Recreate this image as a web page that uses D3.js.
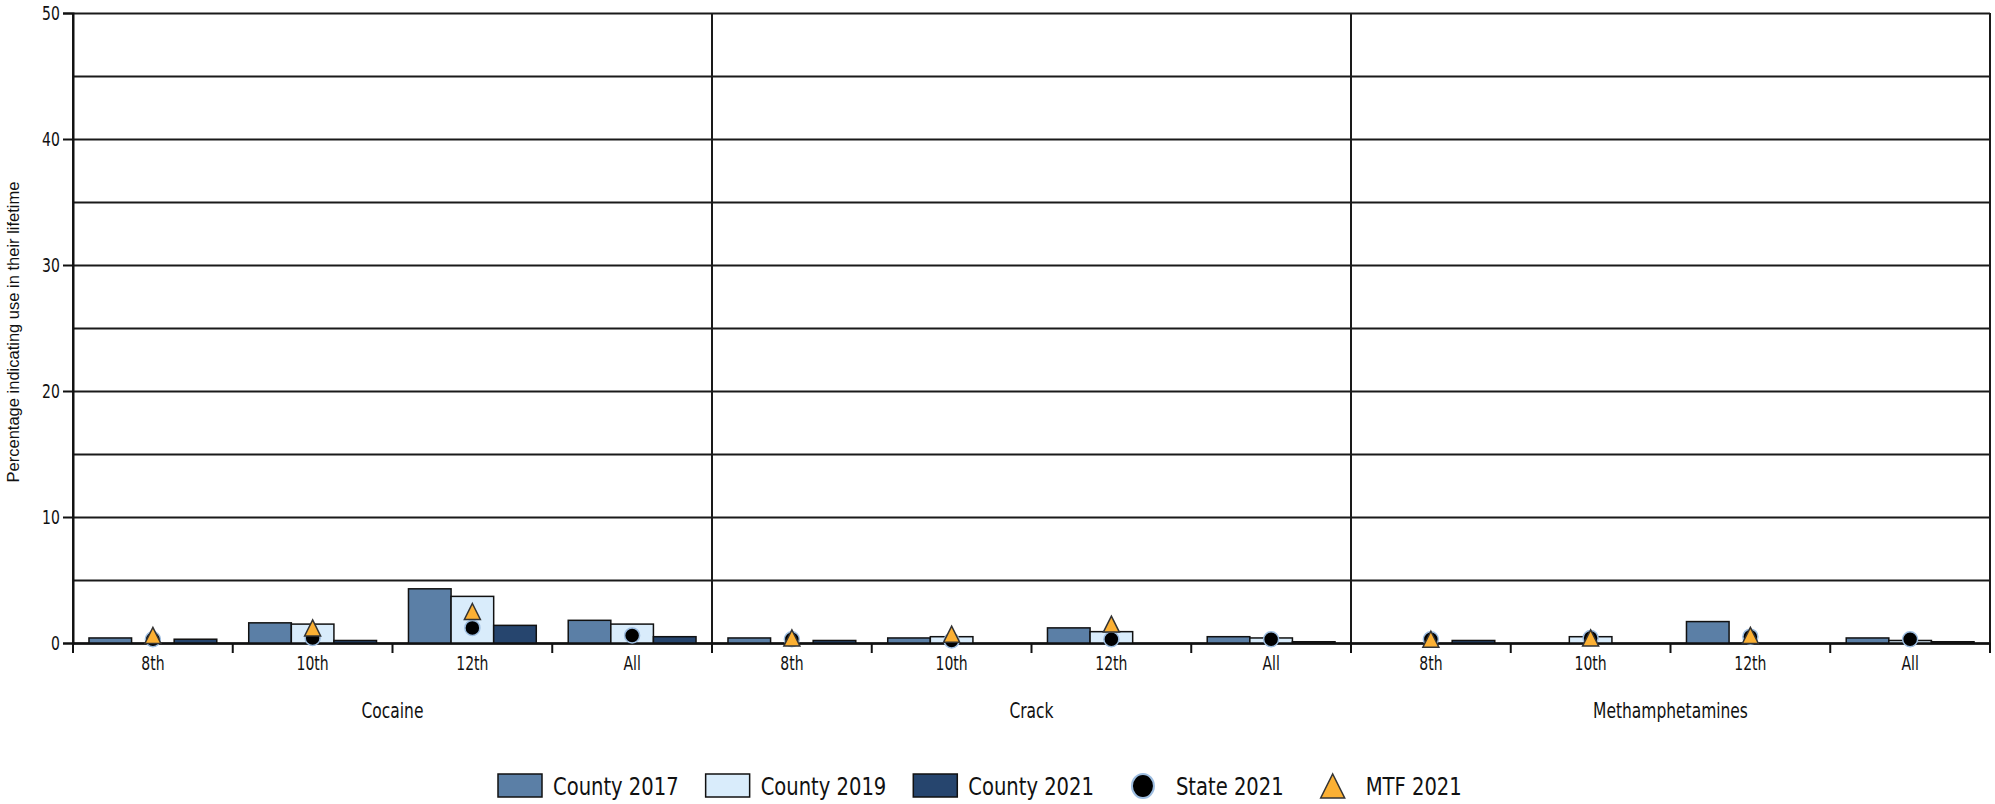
<!DOCTYPE html>
<html>
<head>
<meta charset="utf-8">
<script src="https://cdn.jsdelivr.net/npm/d3@7"></script>
<style>
  html, body { margin: 0; padding: 0; background: #fff; }
  svg { display: block; }
  text { font-family: "Liberation Sans Narrow", "DejaVu Sans Condensed", "Liberation Sans", sans-serif; fill: #111; }
</style>
</head>
<body>
<svg id="chart" width="1995" height="804"></svg>
<script>
const panels = ["Cocaine", "Crack", "Methamphetamines"];
const grades = ["8th", "10th", "12th", "All"];
const barSeries = ["County 2017", "County 2019", "County 2021"];
const county2017 = [[0.4, 1.6, 4.3, 1.8], [0.4, 0.4, 1.2, 0.5], [null, null, 1.7, 0.4]];
const county2019 = [[null, 1.5, 3.7, 1.5], [null, 0.5, 0.9, 0.4], [null, 0.5, null, 0.2]];
const county2021 = [[0.3, 0.2, 1.4, 0.5], [0.2, null, null, 0.1], [0.2, null, null, 0.1]];
const state2021 = [[0.3, 0.4, 1.2, 0.6], [0.3, 0.2, 0.3, 0.3], [0.3, 0.4, 0.5, 0.3]];
const mtf2021 = [[0.6, 1.2, 2.5, null], [0.4, 0.7, 1.5, null], [0.3, 0.4, 0.6, null]];
const yTicks = [0, 10, 20, 30, 40, 50];
const yGrid = [0, 5, 10, 15, 20, 25, 30, 35, 40, 45, 50];
const yTitle = "Percentage indicating use in their lifetime";
const legendItems = ["County 2017", "County 2019", "County 2021", "State 2021", "MTF 2021"];

const barColors = ["#5b7fa6", "#d9ecfb", "#26456e"];
const barValues = [county2017, county2019, county2021];
const squeeze = 0.82;

const svg = d3.select("#chart");
const mLeft = 73, mRight = 1990, mTop = 13, mBottom = 643;

const y = d3.scaleLinear().domain([0, 50]).range([mBottom, mTop]);
const xPanel = d3.scaleBand().domain(panels).range([mLeft, mRight]).padding(0);
const xGroup = d3.scaleBand().domain(grades).range([0, xPanel.bandwidth()]).paddingInner(0.2).paddingOuter(0.1);
const xBar = d3.scaleBand().domain(barSeries).range([0, xGroup.bandwidth()]).padding(0);

// gridlines
const grid = svg.append("g").attr("transform", `translate(${mLeft},0)`)
  .call(d3.axisLeft(y).tickValues(yGrid).tickSize(-(mRight - mLeft)).tickFormat(""));
grid.select(".domain").remove();
grid.selectAll(".tick line").attr("stroke", "#1a1a1a").attr("stroke-width", 2);

// vertical panel lines
svg.append("g").selectAll("line").data(panels.concat(["end"])).join("line")
  .attr("x1", (d, i) => i < panels.length ? xPanel(d) : mRight)
  .attr("x2", (d, i) => i < panels.length ? xPanel(d) : mRight)
  .attr("y1", mTop).attr("y2", mBottom)
  .attr("stroke", "#1a1a1a").attr("stroke-width", 2);

// y axis
const yAxis = svg.append("g").attr("transform", `translate(${mLeft},0)`)
  .call(d3.axisLeft(y).tickValues(yTicks).tickSize(10).tickPadding(6));
yAxis.select(".domain").attr("stroke", "#111").attr("stroke-width", 2);
yAxis.selectAll(".tick line").attr("stroke", "#111").attr("stroke-width", 2);
yAxis.selectAll(".tick text").style("font-size", "19px").attr("fill", "#111")
  .attr("transform", `scale(${squeeze},1)`);

svg.append("text")
  .attr("transform", `translate(19,${(mTop + mBottom) / 2 + 4}) rotate(-90)`)
  .attr("text-anchor", "middle")
  .style("font-family", '"Liberation Sans", Arial, sans-serif')
  .style("font-size", "16.5px")
  .text(yTitle);

// panels
panels.forEach((p, pi) => {
  const g = svg.append("g").attr("transform", `translate(${xPanel(p)},0)`);
  const bounds = grades.map(gr => xGroup(gr) - xGroup.step() * xGroup.paddingInner() / 2);
  bounds[0] = 0;
  bounds.push(xPanel.bandwidth());
  g.append("g").selectAll("line").data(bounds).join("line")
    .attr("x1", d => d).attr("x2", d => d)
    .attr("y1", mBottom).attr("y2", mBottom + 10)
    .attr("stroke", "#111").attr("stroke-width", 2);
  const xa = g.append("g").attr("transform", `translate(0,${mBottom})`)
    .call(d3.axisBottom(xGroup).tickSize(0).tickPadding(14));
  xa.select(".domain").attr("stroke", "#111").attr("stroke-width", 2.5);
  xa.selectAll(".tick text").style("font-size", "19px").attr("fill", "#111")
    .attr("transform", `scale(${squeeze},1)`);
  g.append("text")
    .attr("transform", `translate(${xPanel.bandwidth() / 2},718) scale(${squeeze},1)`)
    .attr("text-anchor", "middle").style("font-size", "21px")
    .text(p);

  grades.forEach((gr, gi) => {
    const gg = g.append("g").attr("transform", `translate(${xGroup(gr)},0)`);
    barSeries.forEach((s, si) => {
      const v = barValues[si][pi][gi];
      if (v === null) return;
      gg.append("rect")
        .attr("x", xBar(s)).attr("width", xBar.bandwidth())
        .attr("y", y(v)).attr("height", y(0) - y(v))
        .attr("fill", barColors[si]).attr("stroke", "#111").attr("stroke-width", 1.5);
    });
    const cx = xGroup.bandwidth() / 2;
    const sv = state2021[pi][gi];
    if (sv !== null) {
      gg.append("circle").attr("cx", cx).attr("cy", y(sv)).attr("r", 7.5)
        .attr("fill", "#000").attr("stroke", "#9dbde0").attr("stroke-width", 1.5);
    }
    const mv = mtf2021[pi][gi];
    if (mv !== null) {
      gg.append("path")
        .attr("d", `M${cx},${y(mv) - 8}L${cx + 8},${y(mv) + 8}L${cx - 8},${y(mv) + 8}Z`)
        .attr("fill", "#fbb034").attr("stroke", "#333").attr("stroke-width", 1.5);
    }
  });
});

// legend
const leg = svg.append("g");
const ly = 786;
const legSqueeze = 0.87;
let lx = 497;
legendItems.forEach((name, i) => {
  const it = leg.append("g");
  if (i < 3) {
    it.append("rect").attr("x", lx + 1).attr("y", ly - 12).attr("width", 44).attr("height", 23)
      .attr("fill", barColors[i]).attr("stroke", "#111").attr("stroke-width", 1.5);
  } else if (i === 3) {
    it.append("ellipse").attr("cx", lx + 23).attr("cy", ly).attr("rx", 11).attr("ry", 12)
      .attr("fill", "#000").attr("stroke", "#9dbde0").attr("stroke-width", 2);
  } else {
    it.append("path")
      .attr("d", `M${lx + 23},${ly - 12}L${lx + 35},${ly + 12}L${lx + 11},${ly + 12}Z`)
      .attr("fill", "#fbb034").attr("stroke", "#333").attr("stroke-width", 1.5);
  }
  const t = it.append("text")
    .attr("transform", `translate(${lx + 56},${ly + 9}) scale(${legSqueeze},1)`)
    .style("font-size", "25px").text(name);
  const w = t.node().getComputedTextLength() * legSqueeze;
  lx += 56 + w + 26;
});
</script>
</body>
</html>
